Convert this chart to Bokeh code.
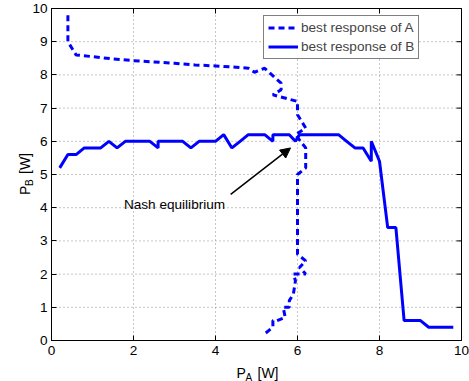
import math
from bokeh.plotting import figure
from bokeh.models import Range1d, FixedTicker, Label, Arrow, NormalHead, BoxAnnotation
from bokeh.embed import file_html
from bokeh.resources import INLINE

# ---- data ----
# best response of A (dashed)
a_x = [0.4, 0.4, 0.6, 1.0, 1.5, 2.0, 2.5, 3.0, 3.5, 4.0,
       4.5, 4.8, 4.95, 5.2, 5.6, 5.6, 5.4, 6.0, 6.0, 6.2,
       5.95, 6.2, 6.2, 6.0, 6.0, 6.2, 6.05, 6.2, 5.9, 5.95,
       5.9, 5.8, 5.8, 5.65, 5.7, 5.5, 5.4, 5.4, 5.2]
a_y = [9.8, 9.0, 8.6, 8.55, 8.48, 8.43, 8.39, 8.35, 8.3, 8.27,
       8.23, 8.2, 8.08, 8.2, 7.75, 7.55, 7.4, 7.2, 6.8, 6.4,
       6.2, 5.8, 5.2, 5.0, 2.6, 2.4, 2.2, 2.0, 2.0, 1.8,
       1.4, 1.2, 1.0, 1.0, 0.7, 0.6, 0.6, 0.4, 0.2]

# best response of B (solid)
b_x = [0.2, 0.4, 0.6, 0.8, 1.0, 1.2, 1.4, 1.6, 1.8, 2.0,
       2.2, 2.4, 2.6, 2.6, 2.8, 3.0, 3.2, 3.4, 3.6, 3.8,
       4.0, 4.2, 4.4, 4.6, 4.8, 5.0, 5.2, 5.4, 5.4, 5.6,
       5.8, 5.95, 6.05, 6.2, 6.4, 6.6, 6.8, 7.0, 7.2, 7.4,
       7.6, 7.8, 7.8, 8.0, 8.2, 8.4, 8.6, 8.8, 9.0, 9.2,
       9.4, 9.6, 9.8]
b_y = [5.2, 5.6, 5.6, 5.8, 5.8, 5.8, 6.0, 5.8, 6.0, 6.0,
       6.0, 6.0, 5.8, 6.0, 6.0, 6.0, 6.0, 5.8, 6.0, 6.0,
       6.0, 6.2, 5.8, 6.0, 6.2, 6.2, 6.2, 6.0, 6.2, 6.2,
       6.2, 6.0, 6.2, 6.2, 6.2, 6.2, 6.2, 6.2, 6.0, 5.8,
       5.8, 5.4, 6.0, 5.4, 3.4, 3.4, 0.6, 0.6, 0.6, 0.4,
       0.4, 0.4, 0.4]

x_ticks = [0, 2, 4, 6, 8, 10]
y_ticks = [0, 1, 2, 3, 4, 5, 6, 7, 8, 9, 10]

legend_a = "best response of A"
legend_b = "best response of B"

annot_text = "Nash equilibrium"
annot_text_pos = (3.0, 4.1)
arrow_start = (4.37, 4.40)
arrow_end = (5.83, 5.80)

FONT = "Liberation Sans"
FS = "13.6px"
BLUE = "#0000ff"

# ---- layout (pixels) ----
W, H = 469, 381
FL, FR, FT, FB = 51, 461, 8, 340   # plot box edges on the canvas

x0, x1 = x_ticks[0], x_ticks[-1]
y0, y1 = y_ticks[0], y_ticks[-1]
sx = (FR - FL) / (x1 - x0)
sy = (FB - FT) / (y1 - y0)
x_range = Range1d(x0 - FL / sx, x1 + (W - FR) / sx)
y_range = Range1d(y0 - (H - FB) / sy, y1 + FT / sy)

p = figure(width=W, height=H, output_backend="svg", toolbar_location=None,
           x_range=x_range, y_range=y_range, min_border=0)
p.background_fill_color = "white"
p.border_fill_color = "white"
p.outline_line_color = None
p.xgrid.grid_line_color = None
p.ygrid.grid_line_color = None

for ax, ticks in ((p.xaxis[0], x_ticks), (p.yaxis[0], y_ticks)):
    ax.fixed_location = 0
    ax.ticker = FixedTicker(ticks=ticks)
    ax.axis_line_color = "black"
    ax.major_tick_line_color = "black"
    ax.major_tick_in = 5
    ax.major_tick_out = 0
    ax.minor_tick_line_color = None
    ax.major_label_text_font = FONT
    ax.major_label_text_color = "black"
    ax.major_label_text_font_size = FS
p.xaxis.bounds = (x0, x1)
p.yaxis.bounds = (y0, y1)
p.xaxis.major_label_standoff = 5
p.yaxis.major_label_standoff = 4

# dotted grid inside the box
gx = x_ticks[1:-1]
gy = y_ticks[1:-1]
p.segment(x0=gx, y0=[y0] * len(gx), x1=gx, y1=[y1] * len(gx),
          line_color="#8c8c8c", line_dash="1 3", line_width=1)
p.segment(x0=[x0] * len(gy), y0=gy, x1=[x1] * len(gy), y1=gy,
          line_color="#8c8c8c", line_dash="1 3", line_width=1)

# box and inward ticks on the top and right edges
p.add_layout(BoxAnnotation(left=x0, right=x1, bottom=y0, top=y1,
                           fill_alpha=0, line_color="black", line_width=1, line_alpha=1))
p.ray(x=x_ticks, y=[y1] * len(x_ticks), length=5, length_units="screen",
      angle=-math.pi / 2, line_color="black", line_width=1)
p.ray(x=[x1] * len(y_ticks), y=y_ticks, length=5, length_units="screen",
      angle=math.pi, line_color="black", line_width=1)

p.line(a_x, a_y, line_color=BLUE, line_width=3, line_dash="6 4", legend_label=legend_a)
p.line(b_x, b_y, line_color=BLUE, line_width=3, legend_label=legend_b)

# annotation
p.add_layout(Label(x=annot_text_pos[0], y=annot_text_pos[1], text=annot_text,
                   text_font=FONT, text_font_size=FS, text_align="center",
                   text_baseline="middle", text_color="black"))
p.add_layout(Arrow(end=NormalHead(size=10, fill_color="black", line_color="black"),
                   x_start=arrow_start[0], y_start=arrow_start[1],
                   x_end=arrow_end[0], y_end=arrow_end[1],
                   line_color="black", line_width=1.5))

# axis labels with subscripts (canvas units: from left / from top)
def lab(x, y, text, size, angle=0.0):
    p.add_layout(Label(x=x, y=y, x_units="canvas", y_units="canvas", text=text,
                       text_font=FONT, text_font_size=size,
                       text_align="left", text_baseline="alphabetic",
                       angle=angle, text_color="black"))

lab(236, 372, "P", "14px")
lab(245, 376.5, "A", "10px")
lab(257, 372, "[W]", "14px")

lab(24, 194.5, "P", "14px", math.pi / 2)
lab(28.5, 185.5, "B", "10px", math.pi / 2)
lab(24, 173.5, "[W]", "14px", math.pi / 2)

leg = p.legend[0]
leg.location = (263, 322)
leg.border_line_color = "black"
leg.border_line_width = 1
leg.background_fill_color = "white"
leg.background_fill_alpha = 1
leg.label_text_font = FONT
leg.label_text_font_size = FS
leg.glyph_width = 30
leg.glyph_height = 15
leg.label_height = 15
leg.label_standoff = 3
leg.spacing = 4
leg.padding = 4
leg.margin = 0

open("out.html", "w").write(file_html(p, INLINE))
